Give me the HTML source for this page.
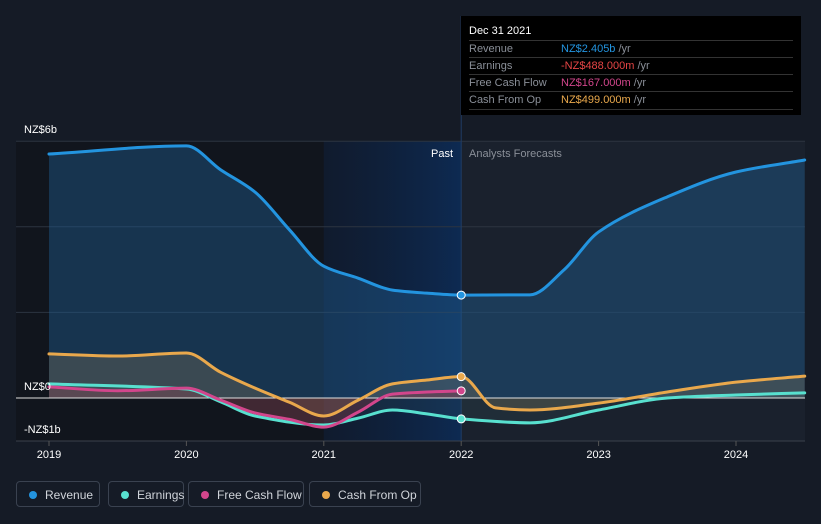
<!DOCTYPE html>
<html><head><meta charset="utf-8"><style>
body{margin:0;background:#151b26;font-family:"Liberation Sans",sans-serif;}
#wrap{position:relative;width:821px;height:524px;overflow:hidden;background:#151b26}
svg{position:absolute;left:0;top:0}
.tip{position:absolute;left:461px;top:16px;width:340px;height:99px;background:#000;}
.tip .h{position:absolute;left:8px;top:9px;color:#fff;font-size:11px}
.row{position:absolute;left:8px;width:324px;border-top:1px solid #333;height:17px;font-size:11px;line-height:17px;color:#8a8f98}
.row span.v{position:absolute;left:92px}
.legend{position:absolute;top:481px;height:26px;border:1px solid #3a4250;border-radius:4px;color:#d0d4da;font-size:12px;line-height:26px;box-sizing:border-box;padding-left:28px}
.legend i{position:absolute;left:12px;top:9px;width:8px;height:8px;border-radius:50%}
</style></head><body>
<div id="wrap">
<svg id="chart" width="821" height="524"></svg>
<div class="tip">
<div class="h">Dec 31 2021</div>
<div class="row" style="top:24px">Revenue<span class="v" style="color:#2394df">NZ$2.405b <span style="color:#8a8f98">/yr</span></span></div>
<div class="row" style="top:41px">Earnings<span class="v" style="color:#e64545">-NZ$488.000m <span style="color:#8a8f98">/yr</span></span></div>
<div class="row" style="top:58px">Free Cash Flow<span class="v" style="color:#d2468c">NZ$167.000m <span style="color:#8a8f98">/yr</span></span></div>
<div class="row" style="top:75px;border-bottom:1px solid #333">Cash From Op<span class="v" style="color:#e9a84c">NZ$499.000m <span style="color:#8a8f98">/yr</span></span></div>
</div>
<div class="legend" style="left:16px;width:84px"><i style="background:#2394df"></i>Revenue</div>
<div class="legend" style="left:108px;width:76px"><i style="background:#58e0cf"></i>Earnings</div>
<div class="legend" style="left:188px;width:116px"><i style="background:#d2468c"></i>Free Cash Flow</div>
<div class="legend" style="left:309px;width:112px"><i style="background:#e9a84c"></i>Cash From Op</div>
</div>
<script>
const revT=[2019,2020,2020.25,2020.5,2020.75,2021,2021.25,2021.5,2021.75,2022,2022.5,2022.75,2023,2023.5,2024,2024.5];
const revV=[5.70,5.89,5.33,4.81,3.93,3.08,2.80,2.52,2.45,2.405,2.41,3.0,3.88,4.70,5.28,5.56];
const cfoT=[2019,2019.5,2020,2020.25,2020.5,2020.75,2021,2021.25,2021.5,2021.75,2022,2022.25,2022.5,2023,2023.5,2024,2024.5];
const cfoV=[1.03,0.98,1.05,0.6,0.23,-0.1,-0.42,-0.05,0.33,0.42,0.499,-0.23,-0.28,-0.12,0.14,0.37,0.51];
const earnT=[2019,2020,2020.25,2020.5,2021,2021.25,2021.5,2021.75,2022,2022.5,2023,2023.5,2024,2024.5];
const earnV=[0.33,0.21,-0.09,-0.42,-0.63,-0.47,-0.28,-0.37,-0.488,-0.58,-0.28,0,0.07,0.12];
const fcfT=[2019,2019.5,2020,2020.25,2020.5,2020.75,2021,2021.25,2021.5,2021.75,2022];
const fcfV=[0.26,0.17,0.23,-0.05,-0.35,-0.5,-0.68,-0.33,0.09,0.14,0.167];
const yTicks=[6,0,-1];
const yLabels=["NZ$6b","NZ$0","-NZ$1b"];
const xYears=[2019,2020,2021,2022,2023,2024];

const X=t=>49+(t-2019)*137.4;
const Y=v=>398-v*42.8;
const svg=document.getElementById('chart');
const NS='http://www.w3.org/2000/svg';
function mk(tag,attrs,name){const e=document.createElementNS(NS,tag);for(const k in attrs)e.setAttribute(k,attrs[k]);


svg.appendChild(e);return e;}
function path(T,V){const x=T.map(X),y=V.map(Y),n=x.length;const d=[],m=new Array(n);
for(let i=0;i<n-1;i++)d.push((y[i+1]-y[i])/(x[i+1]-x[i]));
m[0]=d[0];m[n-1]=d[n-2];
for(let i=1;i<n-1;i++){m[i]=(d[i-1]*d[i]<=0)?0:(2*d[i-1]*d[i])/(d[i-1]+d[i]);}
let s='M'+x[0]+','+y[0];
for(let i=0;i<n-1;i++){const h=(x[i+1]-x[i])/3;s+=` C${x[i]+h},${y[i]+m[i]*h} ${x[i+1]-h},${y[i+1]-m[i+1]*h} ${x[i+1]},${y[i+1]}`;}
return s;}
const defs=mk('defs',{},'defs');
defs.innerHTML='<linearGradient id="past" x1="0" x2="1"><stop offset="0" stop-color="#0d1b33" stop-opacity="0.6"/><stop offset="1" stop-color="#0d2a52"/></linearGradient>';
mk('rect',{x:X(2022),y:141,width:805-X(2022),height:300,fill:'#1a212d'},'forecast-region');
mk('rect',{x:16,y:141,width:X(2021)-16,height:300,fill:'#11151d'},'past-dark-region');
mk('rect',{x:X(2021),y:141,width:X(2022)-X(2021),height:300,fill:'url(#past)'},'past-highlight-region');
[6,4,2].forEach(v=>mk('line',{x1:16,x2:805,y1:Y(v),y2:Y(v),stroke:'#2c3440','stroke-width':1},'grid-line'));
mk('line',{x1:16,x2:805,y1:441,y2:441,stroke:'#3a414c'},'x-axis-line');
mk('line',{x1:X(2022),x2:X(2022),y1:16,y2:441,stroke:'#1f3d66'},'cursor-line');
const z=Y(0);
function area(T,V,fill,op,name){mk('path',{d:path(T,V)+` L${X(T[T.length-1])},${z} L${X(T[0])},${z} Z`,fill:fill,'fill-opacity':op},name);}
area(revT,revV,'#1f5a8f',0.45,'revenue-area');
area(cfoT,cfoV,'#8a7a5a',0.3,'cfo-area');
area(fcfT,fcfV,'#b03040',0.3,'fcf-area');
area(earnT,earnV,'#40707a',0.15,'earnings-area');
mk('line',{x1:16,x2:805,y1:z,y2:z,stroke:'#e0e0e0','stroke-width':1},'zero-line');
function line(T,V,c,name){mk('path',{d:path(T,V),fill:'none',stroke:c,'stroke-width':3,'stroke-linecap':'round'},name);}
line(cfoT,cfoV,'#e9a84c','cfo-line');
line(earnT,earnV,'#58e0cf','earnings-line');
line(fcfT,fcfV,'#d2468c','fcf-line');
line(revT,revV,'#2394df','revenue-line');
[[revT,revV,'#2394df'],[cfoT,cfoV,'#e9a84c'],[fcfT,fcfV,'#d2468c'],[earnT,earnV,'#58e0cf']].forEach(([T,V,c])=>{const i=T.indexOf(2022);
mk('circle',{cx:X(2022),cy:Y(V[i]),r:4,fill:c,stroke:'#fff','stroke-width':1},'marker-2022');});
const yOff={"6":-8,"0":-8,"-1":-8};
yTicks.forEach((v,i)=>{const t=mk('text',{x:24,y:Y(v)+yOff[v],fill:'#fff','font-size':11},'y-tick-label');t.textContent=yLabels[i];});
xYears.forEach(y=>{mk('line',{x1:X(y),x2:X(y),y1:441,y2:446,stroke:'#555'},'x-tick');const t=mk('text',{x:X(y),y:458,fill:'#fff','font-size':11,'text-anchor':'middle'},'x-tick-label');t.textContent=y;});
let t=mk('text',{x:453,y:157,fill:'#fff','font-size':11,'text-anchor':'end'},'past-label');t.textContent='Past';
t=mk('text',{x:469,y:157,fill:'#8a8f98','font-size':11},'forecast-label');t.textContent='Analysts Forecasts';
</script>
</body></html>
